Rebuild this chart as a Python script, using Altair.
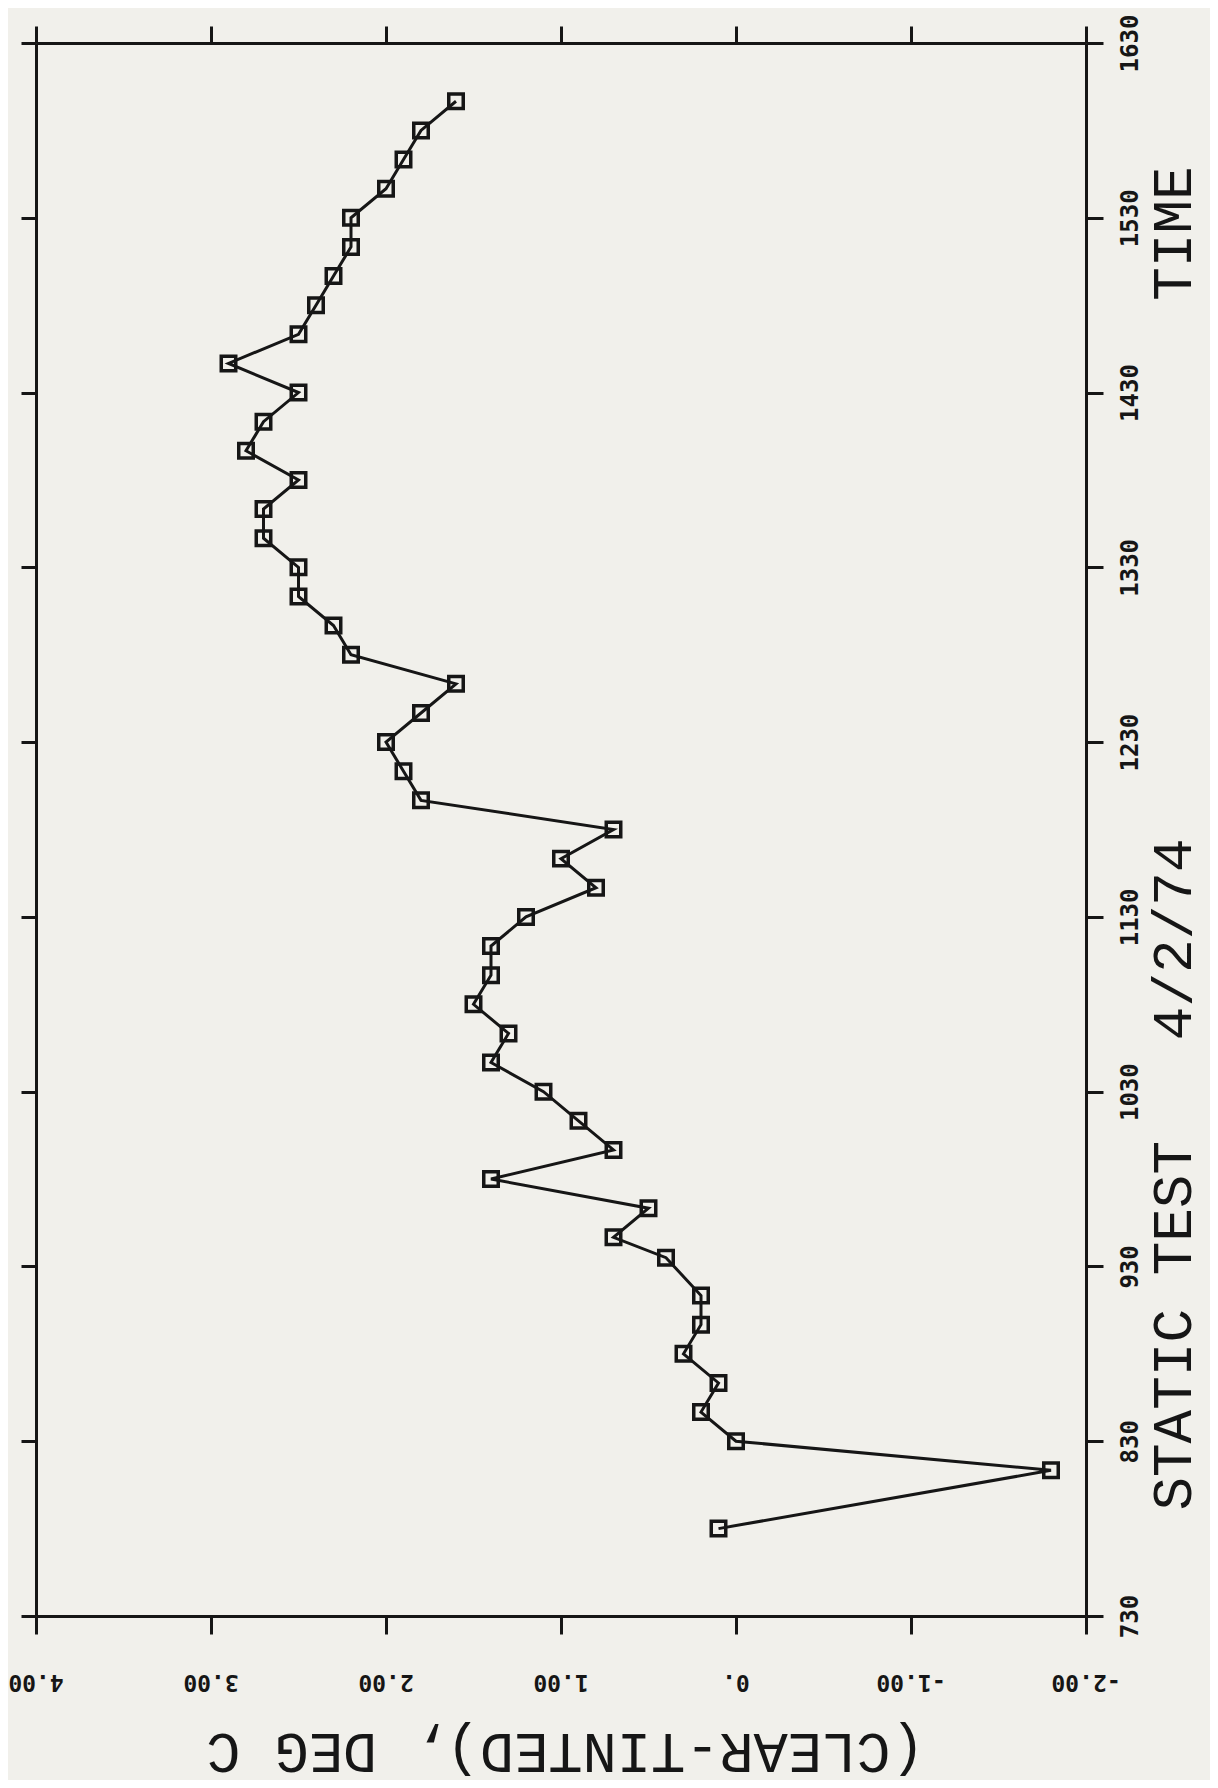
import altair as alt
import pandas as pd

# Time of reading (HHMM) and CLEAR-TINTED temperature difference (deg C)
times = [800, 820, 830, 840, 850, 900, 910, 920, 933, 940, 950,
         1000, 1010, 1020, 1030, 1040, 1050, 1100, 1110, 1120, 1130, 1140, 1150,
         1200, 1210, 1220, 1230, 1240, 1250, 1300, 1310, 1320, 1330, 1340, 1350,
         1400, 1410, 1420, 1430, 1440, 1450, 1500, 1510, 1520, 1530, 1540, 1550,
         1600, 1610]
diffs = [0.1, -1.8, 0.0, 0.2, 0.1, 0.3, 0.2, 0.2, 0.4, 0.7, 0.5,
         1.4, 0.7, 0.9, 1.1, 1.4, 1.3, 1.5, 1.4, 1.4, 1.2, 0.8, 1.0,
         0.7, 1.8, 1.9, 2.0, 1.8, 1.6, 2.2, 2.3, 2.5, 2.5, 2.7, 2.7,
         2.5, 2.8, 2.7, 2.5, 2.9, 2.5, 2.4, 2.3, 2.2, 2.2, 2.0, 1.9,
         1.8, 1.6]

value_ticks = [-2, -1, 0, 1, 2, 3, 4]
value_tick_labels = ["-2.00", "-1.00", "0.", "1.00", "2.00", "3.00", "4.00"]
time_ticks = [7.5, 8.5, 9.5, 10.5, 11.5, 12.5, 13.5, 14.5, 15.5, 16.5]

x_title = "(CLEAR-TINTED), DEG C"
y_title = "STATIC TEST" + "\u00a0" * 3 + "4/2/74" + "\u00a0" * 16 + "TIME"

df = pd.DataFrame({"time": times, "diff": diffs})
tick_df = pd.DataFrame({"v": value_ticks, "label": value_tick_labels})

INK = "#161616"
BG = "#f1f0eb"

xscale = alt.Scale(domain=[-2, 4], reverse=True, nice=False, zero=False)
yscale = alt.Scale(domain=[7.5, 16.5], nice=False, zero=False)

y_label_expr = "format(floor(datum.value) * 100 + round((datum.value - floor(datum.value)) * 60), 'd')"

common = dict(domainColor=INK, domainWidth=3, tickColor=INK, tickWidth=3, grid=False)

x_bottom = alt.Axis(orient="bottom", values=value_ticks, labels=False, tickSize=18,
                    title=x_title, titleFont="Liberation Mono", titleFontWeight="normal",
                    titleFontSize=57, titleColor=INK, titleAngle=180, titleBaseline="middle",
                    titleAlign="center", titleX=529, titleY=134, **common)
x_top = alt.Axis(orient="top", values=value_ticks, labels=False, tickSize=17, title=None, **common)

y_right = alt.Axis(orient="right", values=time_ticks, labelExpr=y_label_expr,
                   tickSize=17, labelPadding=27, labelAngle=270, labelAlign="center",
                   labelBaseline="middle", labelFont="DejaVu Sans Mono", labelFontWeight="bold",
                   labelFontSize=24, labelColor=INK, labelFlush=False,
                   title=y_title, titleFont="Liberation Mono", titleFontWeight="normal",
                   titleFontSize=56, titleColor=INK, titleAngle=270, titleBaseline="middle",
                   titleAlign="center", titleX=87, titleY=795, **common)
y_left = alt.Axis(orient="left", values=time_ticks, labels=False, tickSize=15, title=None, **common)

base = alt.Chart(df).transform_calculate(
    hours="floor(datum.time / 100) + (datum.time % 100) / 60"
)

line = base.mark_line(color=INK, strokeWidth=3).encode(
    x=alt.X("diff:Q", scale=xscale, axis=x_bottom),
    y=alt.Y("hours:Q", scale=yscale, axis=y_right),
    order=alt.Order("hours:Q"),
)

points = base.mark_point(shape="square", filled=False, size=210, strokeWidth=3.5,
                         color=INK, opacity=1).encode(
    x=alt.X("diff:Q", scale=xscale, axis=x_top),
    y=alt.Y("hours:Q", scale=yscale, axis=y_left),
)

# upside-down value-axis tick labels (the whole plot is printed rotated)
tick_labels = alt.Chart(tick_df).mark_text(
    angle=180, align="center", baseline="middle", font="DejaVu Sans Mono",
    fontWeight="bold", fontSize=23, color=INK,
).encode(
    x=alt.X("v:Q", scale=xscale, axis=None),
    y=alt.value(1639),
    text="label:N",
)

chart = alt.layer(line, points, tick_labels).resolve_axis(
    x="independent", y="independent"
).properties(
    width=1050, height=1573,
    autosize=alt.AutoSizeParams(type="none"),
    padding={"left": 28, "top": 35, "right": 124, "bottom": 164},
    background=BG,
).configure_view(stroke=None)

chart.save("out.html", embed_options={"renderer": "svg", "actions": False})
